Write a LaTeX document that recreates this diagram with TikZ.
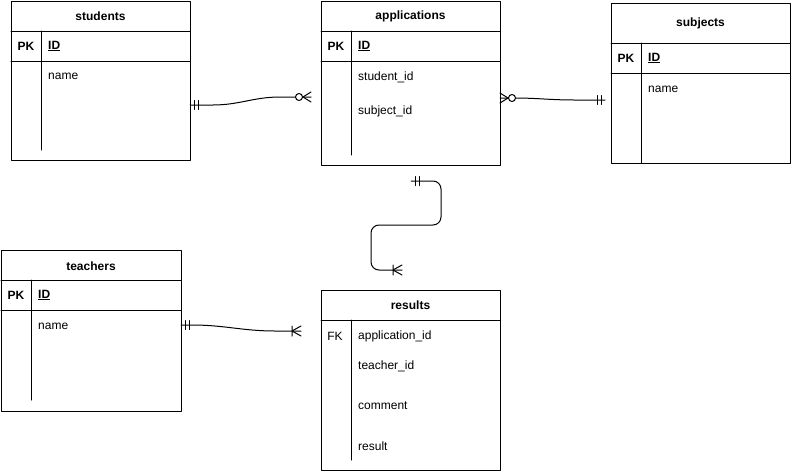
\documentclass[tikz,border=0pt]{standalone}
\usepackage{fontspec}
\setmainfont{Liberation Sans}
\usetikzlibrary{arrows.meta}
\tikzset{
  every picture/.style={line join=round, line cap=round, >=Stealth},
  tbl/.style={draw, line width=1pt, anchor=north west, inner sep=0pt},
  rule/.style={line width=1pt},
  rel/.style={line width=1pt},
  hdr/.style={font=\fontsize{12}{14}\selectfont\bfseries, inner sep=0pt},
  key/.style={font=\fontsize{12}{14}\selectfont, inner sep=0pt},
  fld/.style={font=\fontsize{12}{14}\selectfont, inner sep=0pt, anchor=west},
  pics/erone/.style={code={\draw[rel] (4,-4.5)--(4,4.5) (8,-4.5)--(8,4.5);}},
  pics/erzeromany/.style={code={\draw[rel] (0,-5)--(8,0)--(0,5);
    \draw[rel,fill=white] (12,0) circle[radius=3.5];}},
  pics/eronemany/.style={code={\draw[rel] (0,-5)--(9,0)--(0,5) (9,-5)--(9,5);}},
}

\begin{document}
\begin{tikzpicture}[x=1pt,y=-1pt]
\useasboundingbox (0,0) rectangle (792,471);
% students
\node[tbl,minimum width=179pt,minimum height=159pt] (students) at (11,1) {};
\draw[rule] (11,31)--(190,31) (11,61)--(190,61) (41,31)--(41,150);
\node[hdr] (students-t) at (100.5,16) {students};
\node[hdr] (students-pk) at (26,46) {PK};
\node[fld,font=\fontsize{12}{14}\selectfont\bfseries] (students-id) at (48,46) {\underline{ID}};
\node[fld] (students-name) at (48,76) {name};
% applications
\node[tbl,minimum width=179pt,minimum height=164pt] (applications) at (321,1) {};
\draw[rule] (321,31)--(500,31) (321,61)--(500,61) (351,31)--(351,155);
\node[hdr] (applications-t) at (410.5,16) {applications};
\node[hdr] (applications-pk) at (336,46) {PK};
\node[fld,font=\fontsize{12}{14}\selectfont\bfseries] (applications-id) at (358,46) {\underline{ID}};
\node[fld] (applications-stu) at (358,77) {student\_id};
\node[fld] (applications-sub) at (358,111) {subject\_id};
% subjects
\node[tbl,minimum width=179pt,minimum height=160pt] (subjects) at (611,3) {};
\draw[rule] (611,43)--(790,43) (611,73)--(790,73) (641,43)--(641,163);
\node[hdr] (subjects-t) at (700.5,23) {subjects};
\node[hdr] (subjects-pk) at (626,58) {PK};
\node[fld,font=\fontsize{12}{14}\selectfont\bfseries] (subjects-id) at (648,58) {\underline{ID}};
\node[fld] (subjects-name) at (648,89) {name};
% teachers
\node[tbl,minimum width=180pt,minimum height=161pt] (teachers) at (1,250) {};
\draw[rule] (1,280)--(181,280) (1,310)--(181,310) (31,280)--(31,400);
\node[hdr] (teachers-t) at (91,266) {teachers};
\node[hdr] (teachers-pk) at (16,295) {PK};
\node[fld,font=\fontsize{12}{14}\selectfont\bfseries] (teachers-id) at (38,295) {\underline{ID}};
\node[fld] (teachers-name) at (38,326) {name};
% results
\node[tbl,minimum width=179pt,minimum height=180pt] (results) at (321,290) {};
\draw[rule] (321,320)--(500,320) (351,320)--(351,460);
\node[hdr] (results-t) at (410.5,305) {results};
\node[key] (results-fk) at (335,336) {FK};
\node[fld] (results-app) at (358,336) {application\_id};
\node[fld] (results-tea) at (358,366) {teacher\_id};
\node[fld] (results-com) at (358,406) {comment};
\node[fld] (results-res) at (358,446) {result};
% relations
\coordinate (stu-r) at (190,105);
\coordinate (app-l) at (311,97);
\coordinate (app-r) at (500,98);
\coordinate (sub-l) at (605,100);
\coordinate (app-b) at (411,181);
\coordinate (res-t) at (402,270);
\coordinate (tea-r) at (181,325);
\coordinate (res-l) at (301,331);
\draw[rel] (stu-r) -- ++(23,0) to[out=0,in=180] ++(67,-8) -- (app-l);
\draw[rel] (app-r) -- ++(14,0) to[out=0,in=180] ++(60,2) -- (sub-l);
\draw[rel] (tea-r) -- ++(11,0) to[out=0,in=180] ++(83,6) -- (res-l);
\draw[rel,rounded corners=8pt] (app-b) -| (441,225) -| (371,270) -- (res-t);
\pic at (stu-r) {erone};
\pic[rotate=180] at (app-l) {erzeromany};
\pic at (app-r) {erzeromany};
\pic[rotate=180] at (sub-l) {erone};
\pic at (tea-r) {erone};
\pic[rotate=180] at (res-l) {eronemany};
\pic at (app-b) {erone};
\pic[rotate=180] at (res-t) {eronemany};
\end{tikzpicture}
\end{document}
